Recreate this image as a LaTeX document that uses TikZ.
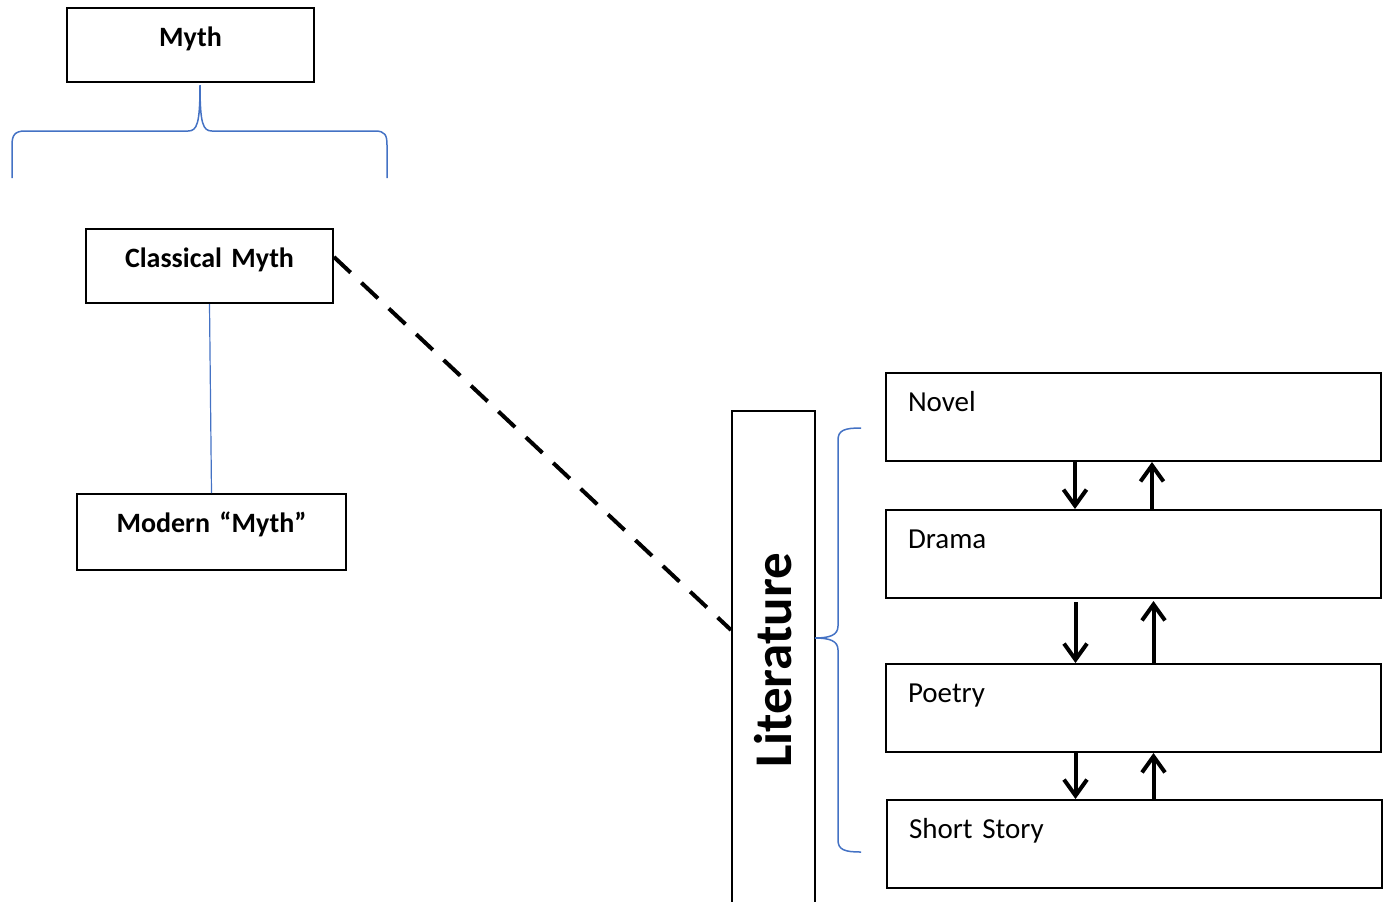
\documentclass[tikz,border=0pt]{standalone}
\usepackage{fontspec}
\setmainfont{Carlito}
\usepackage{tikz}
\usetikzlibrary{positioning}
\usetikzlibrary{arrows.meta}
\usetikzlibrary{calc}
\definecolor{braceblue}{RGB}{68,114,196}
\tikzset{
    myth diagram/.style={
            x=0.5pt,y=-0.5pt,
            mythbox/.style={draw,line width=1pt,inner xsep=0pt,inner ysep=0pt,
                align=center,text height=19pt,text depth=18pt,
                font=\fontsize{14}{17}\selectfont\bfseries},
            formbox/.style={draw,line width=1pt,inner xsep=11pt,inner ysep=0pt,
                align=left,text width=225.5pt,text height=19pt,text depth=25pt,
                font=\fontsize{14.5}{17}\selectfont},
            bracket/.style={braceblue,line width=0.75pt},
            tie/.style={braceblue,line width=0.6pt},
            link/.style={line width=2pt,dash pattern=on 11.4pt off 7.4pt},
            flow/.style={line width=2pt,-{Straight Barb[length=8pt,width=11.5pt]}}
        }
    }

\begin{document}
\begin{tikzpicture}[myth diagram]
                \useasboundingbox (0,0) rectangle (1388,901);
                \node [mythbox,text width=123.5pt] (myth) at (190.5,45) {Myth};
                \node [mythbox,text width=123.5pt] (classical) at (209.5,266) {Classical Myth};
                \node [mythbox,text width=134.5pt,text depth=19pt] (modern) at (211.5,532) {Modern “Myth”};
                \node [draw,line width=1pt,minimum width=41.5pt,minimum height=249.5pt,inner sep=0pt] (lit) at (773.5,660.5)
                    {\rotatebox{90}{\fontsize{26.5}{30}\selectfont\bfseries Literature}};
                \node [formbox] (novel) at (1133.5,417) {Novel};
                \node [formbox] (drama) [below=23.5pt of novel] {Drama};
                \node [formbox] (poetry) [below=32pt of drama] {Poetry};
                \node [formbox] (story) [below=23pt of poetry,xshift=0.5pt] {Short Story};
                % braces
                \draw [bracket] (12,178) -- (12,145) .. controls (12,135) and (15,131) .. (25,131)
                    -- (188,131) .. controls (197,131) and (200,124) .. (200,85)
                    .. controls (200,124) and (203,131) .. (212,131)
                    -- (375,131) .. controls (385,131) and (387,135) .. (387,145) -- (387,178);
                \draw [bracket] (861,428) .. controls (845,428) and (838,430) .. (838,440)
                    -- (838,626) .. controls (838,635) and (830,638) .. (815,638)
                    .. controls (830,638) and (838,641) .. (838,650)
                    -- (838,840) .. controls (838,850) and (845,852) .. (861,852);
                \draw [tie] (classical.south) -- (modern.north);
                \draw [link] ([yshift=4.5pt]classical.east) -- ([yshift=15.25pt]lit.west);
                \draw [flow] ([xshift=-29.25pt]novel.south) -- ([xshift=-29.25pt]drama.north);
                \draw [flow] ([xshift=9.25pt]drama.north) -- ([xshift=9.25pt]novel.south);
                \draw [flow] ([xshift=-29pt,yshift=-1.5pt]drama.south) -- ([xshift=-29pt]poetry.north);
                \draw [flow] ([xshift=10pt]poetry.north) -- ([xshift=10pt,yshift=-1pt]drama.south);
                \draw [flow] ([xshift=-29pt]poetry.south) -- ([xshift=-29.5pt]story.north);
                \draw [flow] ([xshift=9.5pt]story.north) -- ([xshift=10pt]poetry.south);
            \end{tikzpicture}
\end{document}
